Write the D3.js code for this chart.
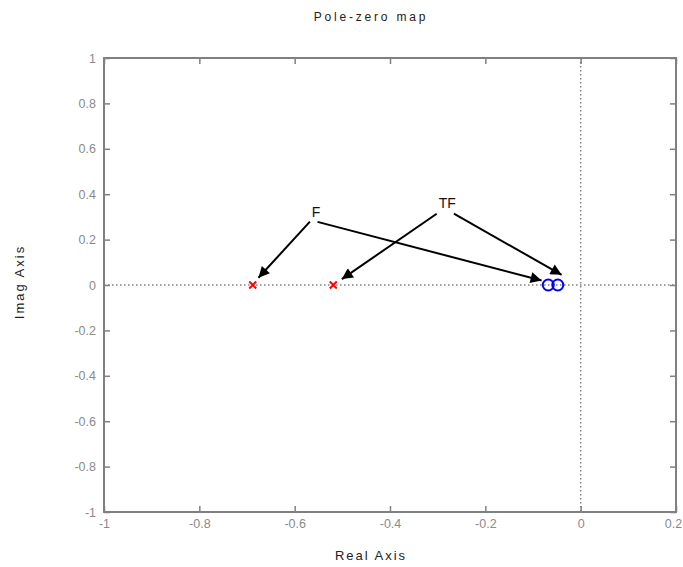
<!DOCTYPE html>
<html>
<head>
<meta charset="utf-8">
<script src="https://cdn.jsdelivr.net/npm/d3@7"></script>
<style>
  body { margin: 0; background: #fff; }
  svg { font-family: "Liberation Sans", Arial, sans-serif; }
  .tick-label { fill: #8a8a8a; font-size: 12.5px; }
  .axis-label { fill: #222; font-size: 13px; letter-spacing: 2px; }
  .chart-title { fill: #222; font-size: 12px; letter-spacing: 2.8px; }
  .note { fill: #111; font-size: 14px; }
</style>
</head>
<body>
<svg width="683" height="567"></svg>
<script>
const svg = d3.select("svg");

const width = 683;
const height = 567;

const margin = { top: 58, right: 7, bottom: 55, left: 104 };

// poles (x) and zeros (o)
const poleRe = [-0.688, -0.519];
const poleIm = [0, 0];
const zeroRe = [-0.068, -0.048];
const zeroIm = [0, 0];

const xTicks = [-1, -0.8, -0.6, -0.4, -0.2, 0, 0.2];
const yTicks = [-1, -0.8, -0.6, -0.4, -0.2, 0, 0.2, 0.4, 0.6, 0.8, 1];

// annotation labels and arrows (data coords)
const noteText = ["F", "TF"];
const noteX = [-0.555, -0.280];
const noteY = [0.30, 0.34];
const arrowFrom = [[-0.568, 0.279], [-0.552, 0.278], [-0.302, 0.314], [-0.266, 0.314]];
const arrowTo = [[-0.676, 0.032], [-0.082, 0.020], [-0.501, 0.026], [-0.040, 0.045]];

const xScale = d3.scaleLinear()
    .domain([-1, 0.2])
    .range([margin.left, width - margin.right]);

const yScale = d3.scaleLinear()
    .domain([-1, 1])
    .range([height - margin.bottom, margin.top]);

const axisColor = "#808080";
const fmt = d => String(d);

// dotted zero lines
svg.append("line")
    .attr("x1", xScale(-1)).attr("x2", xScale(0.2))
    .attr("y1", yScale(0)).attr("y2", yScale(0))
    .attr("stroke", axisColor).attr("stroke-width", 1.5)
    .attr("stroke-dasharray", "1.5,2.5");

svg.append("line")
    .attr("x1", xScale(0)).attr("x2", xScale(0))
    .attr("y1", yScale(1)).attr("y2", yScale(-1))
    .attr("stroke", axisColor).attr("stroke-width", 1.5)
    .attr("stroke-dasharray", "1.5,2.5");

// axes (inside ticks on all four sides)
const xAxis = d3.axisBottom(xScale).tickValues(xTicks).tickSizeInner(-6).tickSizeOuter(0).tickPadding(7).tickFormat(fmt);
const yAxis = d3.axisLeft(yScale).tickValues(yTicks).tickSizeInner(-6).tickSizeOuter(0).tickPadding(8).tickFormat(fmt);

function styleAxis(g) {
    g.select(".domain").remove();
    g.selectAll(".tick line").attr("stroke", axisColor).attr("stroke-width", 1.5);
    g.selectAll(".tick text").attr("class", "tick-label").attr("font-size", null).attr("font-family", null);
}

const gx = svg.append("g")
    .attr("transform", `translate(0, ${height - margin.bottom})`)
    .call(xAxis).call(styleAxis);

// keep the last label inside the window
gx.selectAll(".tick text").filter(d => d === 0.2).attr("dx", "-3");

svg.append("g")
    .attr("transform", `translate(${margin.left}, 0)`)
    .call(yAxis).call(styleAxis);

svg.append("g")
    .attr("transform", `translate(0, ${margin.top})`)
    .call(d3.axisTop(xScale).tickValues(xTicks).tickSizeInner(-6).tickSizeOuter(0).tickFormat(""))
    .call(styleAxis);

svg.append("g")
    .attr("transform", `translate(${width - margin.right}, 0)`)
    .call(d3.axisRight(yScale).tickValues(yTicks).tickSizeInner(-6).tickSizeOuter(0).tickFormat(""))
    .call(styleAxis);

// frame
svg.append("rect")
    .attr("x", xScale(-1)).attr("y", yScale(1))
    .attr("width", xScale(0.2) - xScale(-1))
    .attr("height", yScale(-1) - yScale(1))
    .attr("fill", "none")
    .attr("stroke", axisColor)
    .attr("stroke-width", 2);

// poles
const s = 3.5;
svg.append("g").selectAll("path")
    .data(poleRe)
    .join("path")
    .attr("d", (d, i) => {
        const cx = xScale(d), cy = yScale(poleIm[i]);
        return `M${cx - s},${cy - s}L${cx + s},${cy + s}M${cx - s},${cy + s}L${cx + s},${cy - s}`;
    })
    .attr("stroke", "#ff0000")
    .attr("stroke-width", 2);

// zeros
svg.append("g").selectAll("circle")
    .data(zeroRe)
    .join("circle")
    .attr("cx", d => xScale(d))
    .attr("cy", (d, i) => yScale(zeroIm[i]))
    .attr("r", 5.5)
    .attr("fill", "none")
    .attr("stroke", "#0000ff")
    .attr("stroke-width", 2);

// arrows
svg.append("defs").append("marker")
    .attr("id", "head")
    .attr("viewBox", "0 0 10 10")
    .attr("refX", 10).attr("refY", 5)
    .attr("markerUnits", "userSpaceOnUse")
    .attr("markerWidth", 15).attr("markerHeight", 11)
    .attr("orient", "auto")
    .append("path")
    .attr("d", "M0,0L10,5L0,10Z")
    .attr("fill", "#000");

svg.append("g").selectAll("line")
    .data(arrowFrom)
    .join("line")
    .attr("x1", d => xScale(d[0]))
    .attr("y1", d => yScale(d[1]))
    .attr("x2", (d, i) => xScale(arrowTo[i][0]))
    .attr("y2", (d, i) => yScale(arrowTo[i][1]))
    .attr("stroke", "#000")
    .attr("stroke-width", 2)
    .attr("marker-end", "url(#head)");

svg.append("g").selectAll("text")
    .data(noteText)
    .join("text")
    .attr("class", "note")
    .attr("x", (d, i) => xScale(noteX[i]))
    .attr("y", (d, i) => yScale(noteY[i]))
    .attr("text-anchor", "middle")
    .text(d => d);

svg.append("text")
    .attr("x", 371)
    .attr("y", 21)
    .attr("text-anchor", "middle")
    .attr("class", "chart-title")
    .text("Pole-zero map");

svg.append("text")
    .attr("x", 371)
    .attr("y", 560)
    .attr("text-anchor", "middle")
    .attr("class", "axis-label")
    .text("Real Axis");

svg.append("text")
    .attr("transform", "rotate(-90)")
    .attr("x", -282)
    .attr("y", 24)
    .attr("text-anchor", "middle")
    .attr("class", "axis-label")
    .text("Imag Axis");
</script>
</body>
</html>
